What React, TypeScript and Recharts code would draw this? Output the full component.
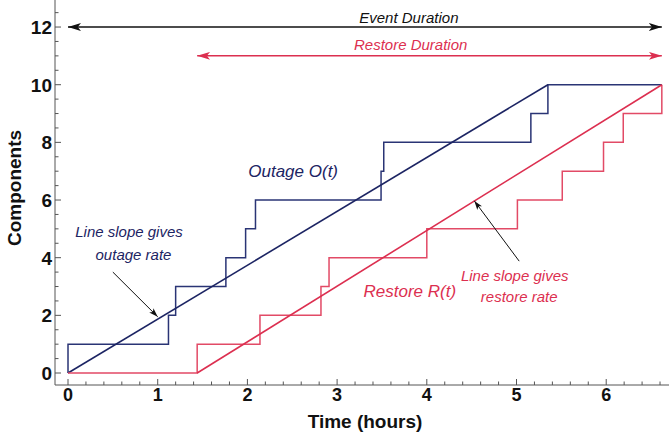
import { LineChart, Line, XAxis, YAxis, ReferenceDot } from "recharts";

// step data: time (hours) of each change, count of components after it
const outageTimes = [0, 0, 1.12, 1.2, 1.76, 1.98, 2.09, 3.49, 3.52, 5.16, 5.35, 6.62];
const outageCounts = [0, 1, 2, 3, 4, 5, 6, 7, 8, 9, 10, 10];
const restoreTimes = [0, 1.44, 2.14, 2.82, 2.91, 4.0, 5.01, 5.51, 5.97, 6.19, 6.62];
const restoreCounts = [0, 1, 2, 3, 4, 5, 6, 7, 8, 9, 10];

// rate lines
const outageRateTimes = [0, 5.35];
const outageRateCounts = [0, 10];
const restoreRateTimes = [1.44, 6.62];
const restoreRateCounts = [0, 10];

// duration arrows
const eventSpanTimes = [0, 6.62];
const eventSpanLevel = [12, 12];
const restoreSpanTimes = [1.44, 6.62];
const restoreSpanLevel = [11, 11];

// pointer arrows (start -> tip)
const outagePointerTimes = [0.5, 1.0];
const outagePointerCounts = [3.5, 1.95];
const restorePointerTimes = [5.03, 4.53];
const restorePointerCounts = [3.88, 5.97];

const xMajor = [0, 1, 2, 3, 4, 5, 6];
const yMajor = [0, 2, 4, 6, 8, 10, 12];
const xMinorStep = 0.2;
const yMinorStep = 0.5;

const NAVY = "#1c2463";
const NAVY_STEP = "#2a3475";
const RED = "#dc2f50";
const RED_STEP = "#e24a66";
const AXIS = "#555";
const FONT = "'Liberation Sans', Arial, Helvetica, sans-serif";

const pts = (ts: number[], ns: number[]) => ts.map((t, i) => ({ t, n: ns[i] }));

const xTicks = Array.from({ length: Math.round(6.6 / xMinorStep) + 1 }, (_, i) => +(i * xMinorStep).toFixed(2));
const yTicks = Array.from({ length: Math.round(12.5 / yMinorStep) + 1 }, (_, i) => +(i * yMinorStep).toFixed(2));

const notes = [
  { t: 3.8, n: 12.14, color: "#111", size: 15, lines: ["Event Duration"] },
  { t: 3.82, n: 11.2, color: RED, size: 15, lines: ["Restore Duration"] },
  { t: 2.51, n: 6.8, color: NAVY, size: 17, lines: ["Outage O(t)"] },
  { t: 0.68, n: 4.72, color: NAVY, size: 15, lines: ["Line slope gives"] },
  { t: 0.73, n: 3.92, color: NAVY, size: 15, lines: ["outage rate"] },
  { t: 3.81, n: 2.64, color: RED, size: 17, lines: ["Restore R(t)"] },
  { t: 4.98, n: 3.19, color: RED, size: 15, lines: ["Line slope gives"] },
  { t: 5.03, n: 2.46, color: RED, size: 15, lines: ["restore rate"] },
];

function XTick(props: any) {
  const { x, y, payload } = props;
  const v = payload.value;
  const major = xMajor.includes(Math.round(v)) && Math.abs(v - Math.round(v)) < 1e-6;
  return (
    <g>
      <line x1={x} x2={x} y1={y} y2={y - (major ? 6 : 3.5)} stroke={AXIS} />
      {major && (
        <text x={x} y={y + 16} textAnchor="middle" fontFamily={FONT} fontWeight="bold" fontSize={18} fill="#111">
          {Math.round(v)}
        </text>
      )}
    </g>
  );
}

function YTick(props: any) {
  const { x, y, payload } = props;
  const v = payload.value;
  const major = yMajor.includes(v);
  return (
    <g>
      <line x1={x} x2={x + (major ? 6 : 3.5)} y1={y} y2={y} stroke={AXIS} />
      {major && (
        <text x={x - 3} y={y} dy="0.36em" textAnchor="end" fontFamily={FONT} fontWeight="bold" fontSize={19} fill="#111">
          {v}
        </text>
      )}
    </g>
  );
}

function Marker({ id, color, w, h }: { id: string; color: string; w: number; h: number }) {
  return (
    <marker id={id} viewBox={`0 0 ${w} ${h}`} refX={w} refY={h / 2} markerWidth={w} markerHeight={h}
      markerUnits="userSpaceOnUse" orient="auto-start-reverse">
      <path d={`M0,0 L${w},${h / 2} L0,${h} L${w * 0.25},${h / 2} Z`} fill={color} />
    </marker>
  );
}

export default function App() {
  return (
    <div style={{ position: "fixed", left: 0, top: 0, width: 669, height: 438, background: "#fff" }}>
      <svg width={0} height={0} style={{ position: "absolute" }}>
        <defs>
          <Marker id="headBlack" color="#111" w={13} h={8} />
          <Marker id="headRed" color={RED} w={13} h={8} />
          <Marker id="headSmall" color="#111" w={9} h={6} />
        </defs>
      </svg>
      <LineChart width={669} height={438} margin={{ top: 0, right: 0, bottom: 0, left: 0 }}>
        <XAxis
          type="number"
          dataKey="t"
          domain={[-0.145, 6.7]}
          allowDataOverflow
          ticks={xTicks}
          interval={0}
          height={53}
          tickSize={0}
          tickMargin={0}
          tickLine={false}
          tick={XTick}
          axisLine={{ stroke: AXIS }}
          label={{
            content: (p: any) => (
              <text x={p.viewBox.x + p.viewBox.width / 2 + 3} y={p.viewBox.y + 43} textAnchor="middle"
                fontFamily={FONT} fontWeight="bold" fontSize={19} fill="#111">
                Time (hours)
              </text>
            ),
          }}
        />
        <YAxis
          type="number"
          domain={[-0.416, 12.938]}
          allowDataOverflow
          ticks={yTicks}
          interval={0}
          width={55}
          tickSize={0}
          tickMargin={0}
          tickLine={false}
          tick={YTick}
          axisLine={{ stroke: AXIS }}
          label={{
            content: (p: any) => (
              <text x={21} y={188} transform="rotate(-90, 21, 188)" textAnchor="middle"
                fontFamily={FONT} fontWeight="bold" fontSize={19} fill="#111">
                Components
              </text>
            ),
          }}
        />
        <Line data={pts(outageTimes, outageCounts)} dataKey="n" type="stepAfter" stroke={NAVY_STEP}
          strokeWidth={1.5} dot={false} activeDot={false} isAnimationActive={false} />
        <Line data={pts(outageRateTimes, outageRateCounts)} dataKey="n" type="linear" stroke={NAVY}
          strokeWidth={1.6} dot={false} activeDot={false} isAnimationActive={false} />
        <Line data={pts(restoreTimes, restoreCounts)} dataKey="n" type="stepAfter" stroke={RED_STEP}
          strokeWidth={1.5} dot={false} activeDot={false} isAnimationActive={false} />
        <Line data={pts(restoreRateTimes, restoreRateCounts)} dataKey="n" type="linear" stroke={RED}
          strokeWidth={1.6} dot={false} activeDot={false} isAnimationActive={false} />
        <Line data={pts(eventSpanTimes, eventSpanLevel)} dataKey="n" type="linear" stroke="#111"
          strokeWidth={1.5} dot={false} activeDot={false} isAnimationActive={false}
          markerStart="url(#headBlack)" markerEnd="url(#headBlack)" />
        <Line data={pts(restoreSpanTimes, restoreSpanLevel)} dataKey="n" type="linear" stroke={RED}
          strokeWidth={1.5} dot={false} activeDot={false} isAnimationActive={false}
          markerStart="url(#headRed)" markerEnd="url(#headRed)" />
        <Line data={pts(outagePointerTimes, outagePointerCounts)} dataKey="n" type="linear" stroke="#111"
          strokeWidth={1} dot={false} activeDot={false} isAnimationActive={false} markerEnd="url(#headSmall)" />
        <Line data={pts(restorePointerTimes, restorePointerCounts)} dataKey="n" type="linear" stroke="#111"
          strokeWidth={1} dot={false} activeDot={false} isAnimationActive={false} markerEnd="url(#headSmall)" />
        {notes.map((a, i) => (
          <ReferenceDot key={i} x={a.t} y={a.n} r={0}
            shape={(p: any) => (
              <text x={p.cx} y={p.cy} textAnchor="middle" fontFamily={FONT} fontStyle="italic"
                fontSize={a.size} fill={a.color}>
                {a.lines[0]}
              </text>
            )}
          />
        ))}
      </LineChart>
    </div>
  );
}
